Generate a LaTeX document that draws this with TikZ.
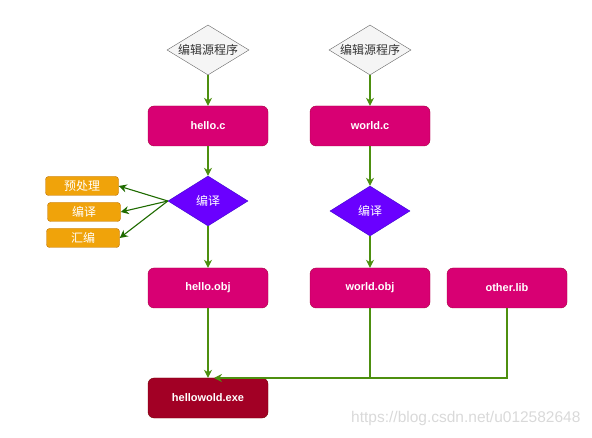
\documentclass[tikz,border=0pt]{standalone}
\usepackage{fontspec}
\setmainfont{Liberation Sans}
\newfontfamily\cjk{Noto Sans CJK SC}
\usetikzlibrary{arrows.meta,shapes.geometric}
\definecolor{pinkF}{HTML}{D80073}
\definecolor{pinkS}{HTML}{A50040}
\definecolor{purF}{HTML}{6A00FF}
\definecolor{purS}{HTML}{3700CC}
\definecolor{orF}{HTML}{F0A30A}
\definecolor{orS}{HTML}{BD7000}
\definecolor{redF}{HTML}{A20025}
\definecolor{redS}{HTML}{6F0000}
\definecolor{grF}{HTML}{F5F5F5}
\definecolor{grS}{HTML}{666666}
\definecolor{grT}{HTML}{333333}
\definecolor{lnG}{HTML}{4D8F0F}
\definecolor{lnD}{HTML}{1F6B00}
\tikzset{
  fbox/.style={draw=pinkS,fill=pinkF,rounded corners=6pt,minimum width=120pt,minimum height=40pt,text=white,font=\fontsize{11}{13}\selectfont\bfseries,inner sep=0pt},
  exebox/.style={fbox,draw=redS,fill=redF},
  obox/.style={draw=orS,fill=orF,rounded corners=3pt,minimum width=73pt,minimum height=19pt,text=white,font=\fontsize{12}{14}\selectfont\cjk,inner sep=0pt},
  gdia/.style={diamond,draw=grS,fill=grF,text=grT,minimum width=82pt,minimum height=50pt,aspect=1.64,inner sep=0pt,font=\fontsize{12}{14}\selectfont\cjk},
  pdia/.style={diamond,draw=purS,fill=purF,text=white,minimum width=80pt,minimum height=50pt,aspect=1.6,inner sep=0pt,font=\fontsize{12}{14}\selectfont\cjk},
  conn/.style={draw=lnG,line width=1.1pt,-{Stealth[length=8pt,width=8pt]}},
  connd/.style={draw=lnD,line width=1.1pt,-{Stealth[length=8pt,width=8pt]}},
  plain/.style={draw=lnG,line width=1.1pt}
}
\begin{document}
\begin{tikzpicture}[x=1pt,y=-1pt]
\useasboundingbox (0,0) rectangle (592,438);
\node[gdia] (e1) at (208,50) {编辑源程序};
\node[gdia] (e2) at (370,50) {编辑源程序};
\node[fbox] (hc) at (208,126) {hello.c};
\node[fbox] (wc) at (370,126) {world.c};
\node[pdia] (c1) at (208,201) {编译};
\node[pdia] (c2) at (370,211) {编译};
\node[obox] (pre) at (82,186) {预处理};
\node[obox] (cmp) at (84,212) {编译};
\node[obox] (asm) at (83,238) {汇编};
\node[fbox] (ho) at (208,288) {hello.obj};
\node[fbox] (wo) at (370,288) {world.obj};
\node[fbox] (ol) at (507,288) {other.lib};
\node[exebox] (exe) at (208,398) {hellowold.exe};
\coordinate (j1) at (370,378);
\coordinate (j2) at (507,378);
\coordinate (tip) at (214,378);
\draw[conn] (e1) -- (hc);
\draw[conn] (e2) -- (wc);
\draw[conn] (hc) -- (c1);
\draw[conn] (wc) -- (c2);
\draw[conn] (c1) -- (ho);
\draw[conn] (c2) -- (wo);
\draw[connd] (c1.west) -- (pre.east);
\draw[connd] (c1.west) -- (cmp.east);
\draw[connd] (c1.west) -- (asm.east);
\draw[conn] (ho) -- (exe);
\draw[conn] (wo.south) -- (j1) -- (tip);
\draw[plain] (ol.south) -- (j2) -- (j1);
\node[text=gray!30,font=\fontsize{15.5}{17}\selectfont,anchor=east] (wm) at (584,418) {https://blog.csdn.net/u012582648};
\end{tikzpicture}
\end{document}
